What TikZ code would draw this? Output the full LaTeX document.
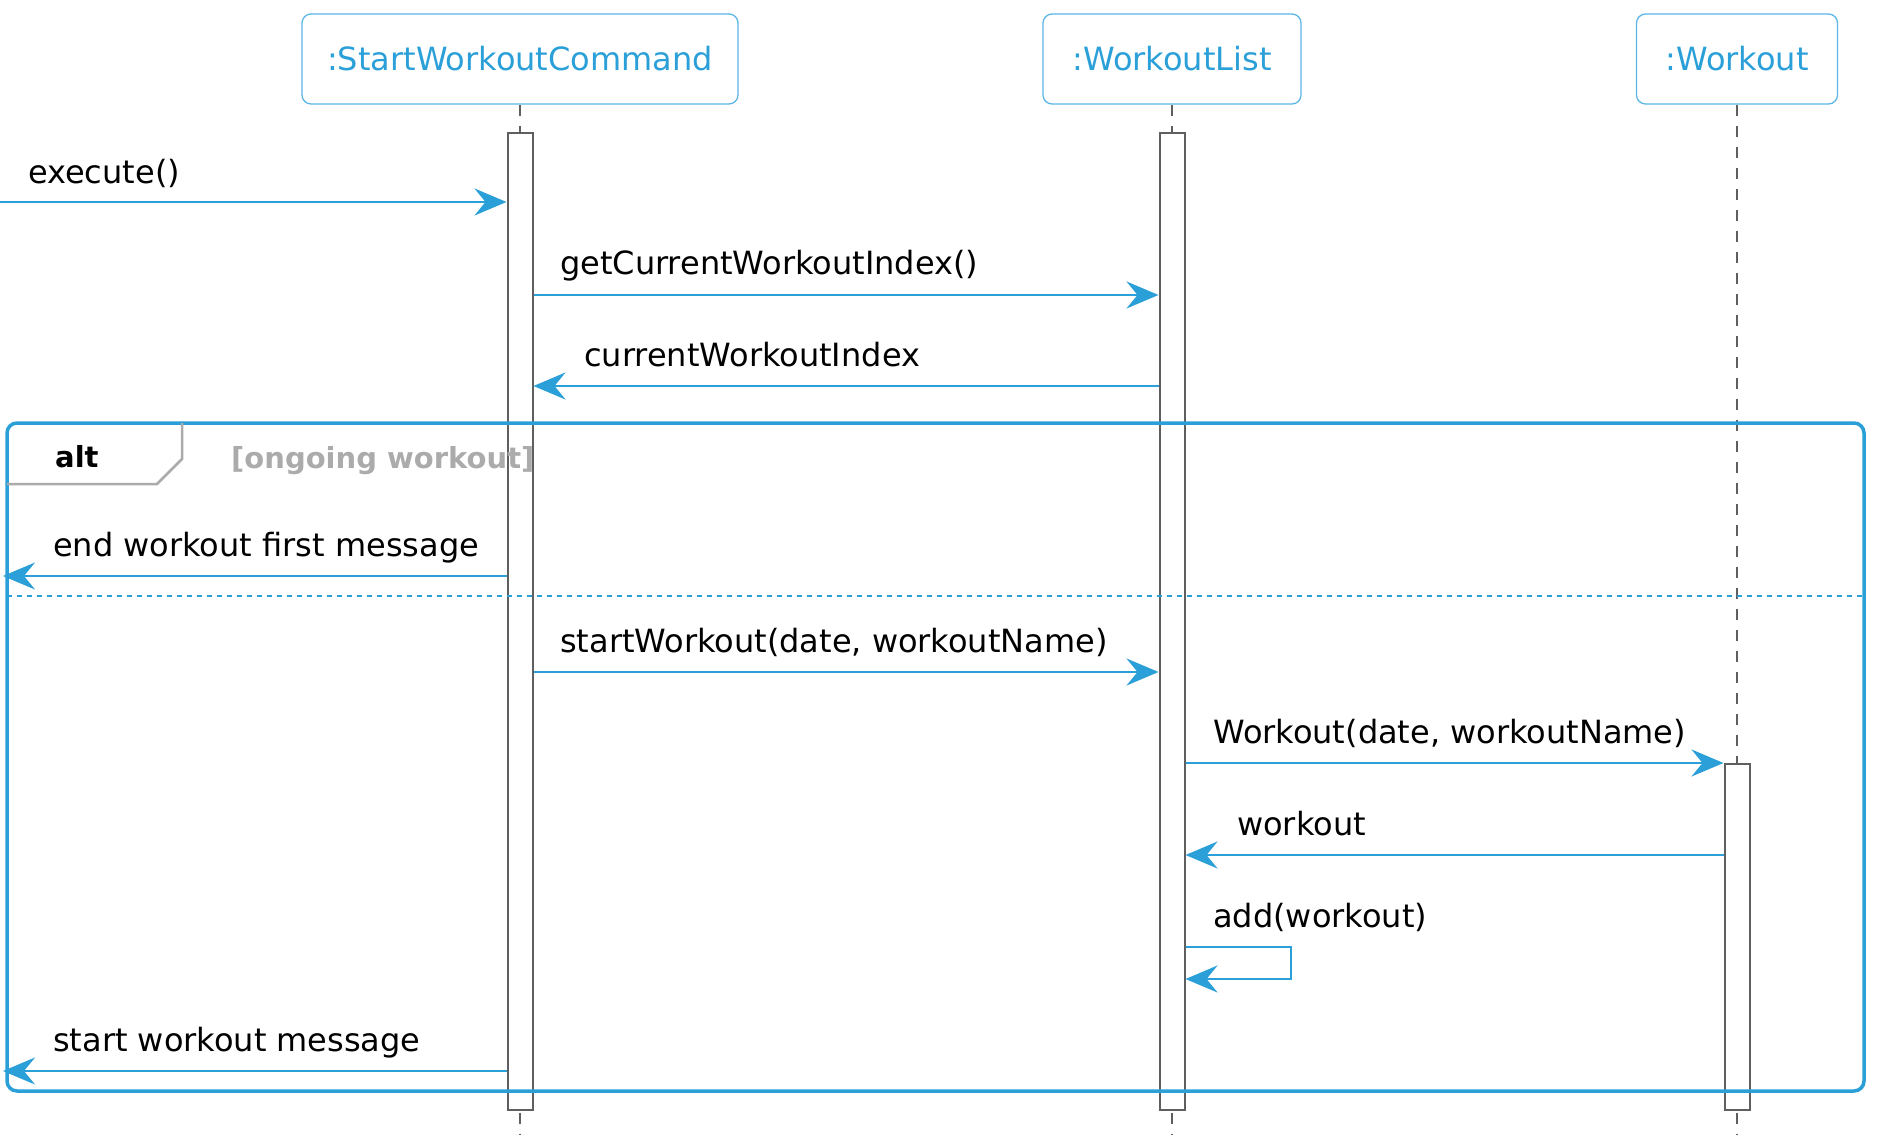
\documentclass[tikz,border=0pt]{standalone}
\usepackage{fontspec}
\setmainfont{DejaVu Sans}
\usetikzlibrary{arrows.meta}

\definecolor{umlblue}{HTML}{2A9FD8}
\definecolor{headblue}{HTML}{5CB6E6}
\definecolor{bargrey}{HTML}{5F5F5F}
\definecolor{guardgrey}{HTML}{ABABAB}

\tikzset{
  head/.style={draw=headblue, line width=1.3pt, rounded corners=9pt, text=umlblue,
    minimum height=90pt, inner sep=0pt},
  actbar/.style={draw=bargrey, fill=white, line width=2pt, minimum width=25pt,
    inner sep=0pt, anchor=north},
  lifeline/.style={draw=bargrey, line width=1.3pt, dash pattern=on 11pt off 10pt},
  msg/.style={draw=umlblue, line width=2.5pt,
    -{Stealth[length=32pt, width=27pt, inset=11pt]}},
  lbl/.style={anchor=base west, inner sep=0pt},
  altframe/.style={draw=umlblue, line width=3.5pt, rounded corners=10pt},
  altsep/.style={draw=umlblue, line width=2pt, dash pattern=on 5pt off 5pt},
  alttab/.style={draw=guardgrey, line width=2.5pt},
}

\begin{document}
\begin{tikzpicture}[x=1pt, y=-1pt, font=\fontsize{32}{38}\selectfont]
  \useasboundingbox (0,0) rectangle (1878,1147);
  % participants
  \node[head, minimum width=436pt] (swc) at (520,59) {:StartWorkoutCommand};
  \node[head, minimum width=258pt] (wl) at (1172,59) {:WorkoutList};
  \node[head, minimum width=201pt] (w) at (1737,59) {:Workout};
  \foreach \p in {swc,wl,w}{
    \draw[lifeline] (\p.south) -- ++(0,1030);
  }
  % activations
  \node[actbar, minimum height=977pt] (swcbar) at (swc.south |- 0,132) {};
  \node[actbar, minimum height=977pt] (wlbar) at (wl.south |- 0,132) {};
  \node[actbar, minimum height=346pt] (wbar) at (w.south |- 0,763) {};

  % alt frame
  \draw[altframe] (7,423) rectangle (1864,1091);
  \draw[alttab] (7,484) -- (157,484) -- (182,459) -- (182,423);
  \node[lbl, font=\fontsize{29}{34}\selectfont\bfseries] (alt) at (55,467) {alt};
  \node[lbl, font=\fontsize{29}{34}\selectfont\bfseries, text=guardgrey] (guard)
    at (231,468) {[ongoing workout]};
  \draw[altsep] (7,596) -- (1864,596);

  % messages
  \coordinate (entry) at (0,202);
  \coordinate (m2) at (0,295);
  \coordinate (m3) at (0,386);
  \coordinate (out1) at (3,576);
  \coordinate (m5) at (0,672);
  \coordinate (m6) at (0,763);
  \coordinate (m7) at (0,855);
  \coordinate (loopa) at (1291,947);
  \coordinate (loopb) at (1291,979);
  \coordinate (out2) at (3,1071);

  \draw[msg] (entry) -- (swcbar.west |- entry);
  \node[lbl] (l1) at (28,184) {execute()};
  \draw[msg] (swcbar.east |- m2) -- (wlbar.west |- m2);
  \node[lbl] (l2) at (560,275) {getCurrentWorkoutIndex()};
  \draw[msg] (wlbar.west |- m3) -- (swcbar.east |- m3);
  \node[lbl] (l3) at (584,366) {currentWorkoutIndex};
  \draw[msg] (swcbar.west |- out1) -- (out1);
  \node[lbl] (l4) at (53,556) {end workout first message};
  \draw[msg] (swcbar.east |- m5) -- (wlbar.west |- m5);
  \node[lbl] (l5) at (560,652) {startWorkout(date, workoutName)};
  \draw[msg] (wlbar.east |- m6) -- (wbar.west |- m6);
  \node[lbl] (l6) at (1213,743) {Workout(date, workoutName)};
  \draw[msg] (wbar.west |- m7) -- (wlbar.east |- m7);
  \node[lbl] (l7) at (1237,835) {workout};
  \draw[msg] (wlbar.east |- loopa) -- (loopa) -- (loopb) -- (wlbar.east |- loopb);
  \node[lbl] (l8) at (1213,927) {add(workout)};
  \draw[msg] (swcbar.west |- out2) -- (out2);
  \node[lbl] (l9) at (53,1051) {start workout message};
\end{tikzpicture}
\end{document}
